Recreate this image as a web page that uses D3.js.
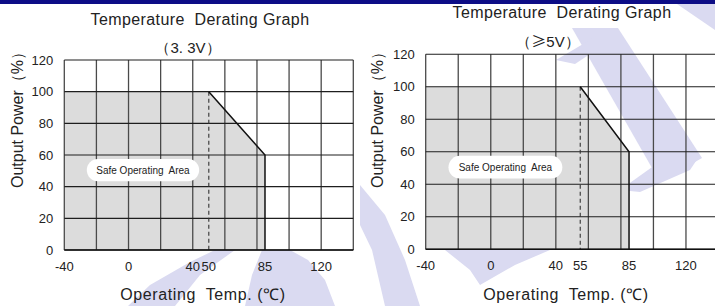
<!DOCTYPE html>
<html>
<head>
<meta charset="utf-8">
<script src="https://cdn.jsdelivr.net/npm/d3@7"></script>
<style>
  html, body { margin: 0; padding: 0; background: #fff; }
  svg { display: block; font-family: "Liberation Sans", Arial, sans-serif; }
</style>
</head>
<body>
<svg id="chart" width="715" height="306"></svg>
<script>
// values
var gridX = [-40, -20, 0, 20, 40, 60, 80, 100, 120, 140];
var gridY = [0, 20, 40, 60, 80, 100, 120];
var yTicks = [0, 20, 40, 60, 80, 100, 120];
var xTicks33 = [-40, 0, 40, 50, 85, 120];
var xTicks5 = [-40, 0, 40, 55, 85, 120];
var curve33 = [[-40, 100], [50, 100], [85, 60], [85, 0]];
var curve5 = [[-40, 100], [55, 100], [85, 60], [85, 0]];
var knee33 = 50, knee5 = 55;
var safeBox = [[-26, 57.5], [44, 43.5]];

var svg = d3.select("#chart");

// background watermark
var lav = "#dadaf1";
var marks = [
  [[128,306],[150,285],[190,262],[215,250],[235,250],[200,275],[175,306]],
  [[245,306],[252,275],[262,250],[290,250],[308,260],[325,280],[335,306]],
  [[360,185],[385,215],[405,260],[420,306],[385,306],[372,250],[360,225]],
  [[445,250],[550,250],[515,265],[480,285],[470,270]],
  [[572,28],[618,28],[702,158],[660,182]],
  [[620,190],[655,165],[700,155],[690,170],[640,192]],
  [[556,60],[600,34],[620,34],[575,64]],
  [[677,4],[715,4],[715,30]]
];
svg.selectAll(".wm").data(marks).enter().append("path")
    .attr("class", "wm")
    .attr("d", function(d) { return "M" + d.join("L") + "Z"; })
    .attr("fill", lav);

// top bar
svg.append("rect").attr("x", 0).attr("y", 0).attr("width", 715).attr("height", 4).attr("fill", "#0d0d86");

function drawChart(c) {
  var x = d3.scaleLinear().domain([-40, 140]).range([c.left, c.right]);
  var y = d3.scaleLinear().domain([0, 120]).range([c.bottom, c.top]);
  var g = svg.append("g");

  // safe area
  var area = [[-40, 0]].concat(c.curve);
  g.append("path")
      .attr("d", "M" + area.map(function(p) { return [x(p[0]), y(p[1])]; }).join("L") + "Z")
      .attr("fill", "#dcdcdc");

  // grid
  g.selectAll(".gx").data(gridX).enter().append("line")
      .attr("x1", function(d) { return x(d); }).attr("x2", function(d) { return x(d); })
      .attr("y1", y(0)).attr("y2", y(120))
      .attr("stroke", "#4a4a4a").attr("stroke-width", 1.3);
  g.selectAll(".gy").data(gridY).enter().append("line")
      .attr("x1", x(-40)).attr("x2", x(140))
      .attr("y1", function(d) { return y(d); }).attr("y2", function(d) { return y(d); })
      .attr("stroke", "#1e1e1e").attr("stroke-width", 1.1);

  // dashed knee line
  g.append("line")
      .attr("x1", x(c.knee)).attr("x2", x(c.knee))
      .attr("y1", y(100)).attr("y2", y(0))
      .attr("stroke", "#333").attr("stroke-width", 1.1)
      .attr("stroke-dasharray", "4,3");

  // derating curve
  g.append("path")
      .attr("d", d3.line().x(function(p) { return x(p[0]); }).y(function(p) { return y(p[1]); })(c.curve.slice(1)))
      .attr("fill", "none").attr("stroke", "#111").attr("stroke-width", 1.5);

  // bottom axis line
  g.append("line")
      .attr("x1", x(-40)).attr("x2", x(140)).attr("y1", y(0)).attr("y2", y(0))
      .attr("stroke", "#111").attr("stroke-width", 1.5);

  // safe label
  var bx0 = x(safeBox[0][0]), bx1 = x(safeBox[1][0]), by0 = y(safeBox[0][1]), by1 = y(safeBox[1][1]);
  g.append("rect")
      .attr("x", bx0).attr("y", by0).attr("width", bx1 - bx0).attr("height", by1 - by0)
      .attr("rx", (by1 - by0) / 2).attr("fill", "#fff");
  g.append("text")
      .attr("x", (bx0 + bx1) / 2).attr("y", (by0 + by1) / 2 + 3.5)
      .attr("text-anchor", "middle").attr("font-size", 10).attr("fill", "#222")
      .style("white-space", "pre")
      .text("Safe Operating  Area");

  // tick labels
  g.selectAll(".ty").data(yTicks).enter().append("text")
      .attr("x", x(-40) - 11).attr("y", function(d) { return y(d) + 4.5; })
      .attr("text-anchor", "end").attr("font-size", 13).attr("fill", "#222")
      .text(function(d) { return d; });
  g.selectAll(".tx").data(c.xTicks).enter().append("text")
      .attr("x", function(d) { return x(d); }).attr("y", c.bottom + 21)
      .attr("text-anchor", "middle").attr("font-size", 13).attr("fill", "#222")
      .text(function(d) { return d; });

  // titles
  g.append("text").attr("x", c.titleX).attr("y", c.titleY)
      .attr("text-anchor", "middle").attr("font-size", 16).attr("letter-spacing", 0.4).attr("fill", "#222")
      .style("white-space", "pre").text("Temperature  Derating Graph");
  var sub = g.append("text").attr("x", c.subX).attr("y", c.subY)
      .attr("text-anchor", "middle").attr("font-size", 15).attr("fill", "#222")
      .style("white-space", "pre");
  c.sub.forEach(function(s) {
    sub.append("tspan").style("font-family", s[1] ? "'Noto Sans CJK SC'" : null).text(s[0]);
  });
  g.append("text").attr("x", c.xTitleX).attr("y", 300)
      .attr("text-anchor", "middle").attr("font-size", 16).attr("letter-spacing", 0.6).attr("fill", "#222")
      .style("white-space", "pre").text("Operating  Temp. (℃)");
  g.append("text")
      .attr("transform", "translate(" + c.yTitleX + ",116) rotate(-90)")
      .attr("text-anchor", "middle").attr("font-size", 16).attr("fill", "#222")
      .text("Output Power（%）");
}

drawChart({left: 64.3, right: 353.3, top: 60, bottom: 250, curve: curve33, knee: knee33,
  xTicks: xTicks33, sub: [["（3. 3V）", false]], titleX: 200, titleY: 25, subX: 188, subY: 53,
  xTitleX: 203, yTitleX: 23});
drawChart({left: 425.7, right: 718.5, top: 54.3, bottom: 249.3, curve: curve5, knee: knee5,
  xTicks: xTicks5, sub: [["（", false], ["≥", true], ["5V）", false]], titleX: 562, titleY: 18, subX: 548, subY: 47,
  xTitleX: 566, yTitleX: 383});
</script>
</body>
</html>
